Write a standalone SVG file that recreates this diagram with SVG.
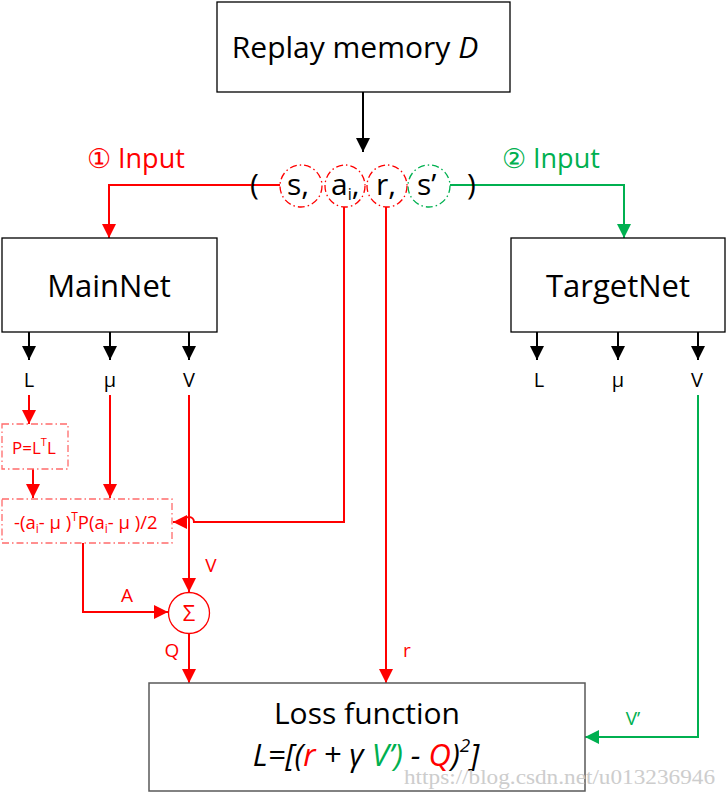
<svg xmlns="http://www.w3.org/2000/svg" width="727" height="798" viewBox="0 0 727 798">
<style>
.box{fill:#fff;stroke:#000;stroke-width:1.3}
.lbox{fill:#fff;stroke:#595959;stroke-width:1.5}
.t{font-family:"Open Sans","Liberation Sans",sans-serif;fill:#000}
.red{fill:#ff0000}
.grn{fill:#00b050}
.k{stroke:#000;stroke-width:2;fill:none}
.r{stroke:#ff0000;stroke-width:2;fill:none}
.g{stroke:#00b050;stroke-width:2;fill:none}
.dr{fill:none;stroke:#ff0000;stroke-width:1.3;stroke-dasharray:7 3 1.5 3}
.dg{fill:none;stroke:#00b050;stroke-width:1.3;stroke-dasharray:7 3 1.5 3}
.db{fill:#fff;stroke:#ff6b6b;stroke-width:1.3;stroke-dasharray:7 3 1.5 3}
</style>
<defs>
<marker id="ak" viewBox="0 0 14 14" refX="14" refY="7" markerWidth="14" markerHeight="14" markerUnits="userSpaceOnUse" orient="auto"><path d="M0,0 L14,7 L0,14 z" fill="#000"/></marker>
<marker id="ar" viewBox="0 0 14 14" refX="14" refY="7" markerWidth="14" markerHeight="14" markerUnits="userSpaceOnUse" orient="auto"><path d="M0,0 L14,7 L0,14 z" fill="#ff0000"/></marker>
<marker id="ag" viewBox="0 0 14 14" refX="14" refY="7" markerWidth="14" markerHeight="14" markerUnits="userSpaceOnUse" orient="auto"><path d="M0,0 L14,7 L0,14 z" fill="#00b050"/></marker>
</defs>

<g id="connectors">
<path class="k" d="M363,92 V152" marker-end="url(#ak)"/>
<path class="r" d="M280,185 H109 V238" marker-end="url(#ar)"/>
<path class="g" d="M450,185 H624 V238" marker-end="url(#ag)"/>
<path class="k" d="M29,332 V360" marker-end="url(#ak)"/>
<path class="k" d="M110,332 V360" marker-end="url(#ak)"/>
<path class="k" d="M189,332 V360" marker-end="url(#ak)"/>
<path class="k" d="M537,332 V360" marker-end="url(#ak)"/>
<path class="k" d="M618,332 V360" marker-end="url(#ak)"/>
<path class="k" d="M698,332 V360" marker-end="url(#ak)"/>
<path class="r" d="M29,395 V424" marker-end="url(#ar)"/>
<path class="r" d="M33,469 V498" marker-end="url(#ar)"/>
<path class="r" d="M110,395 V498" marker-end="url(#ar)"/>
<path class="r" d="M189,395 V592" marker-end="url(#ar)"/>
<path class="r" d="M344,207 V522 H194 A5,5 0 0 0 184,522 H173" marker-end="url(#ar)"/>
<path class="r" d="M386,207 V683" marker-end="url(#ar)"/>
<path class="r" d="M83,543 V612 H168" marker-end="url(#ar)"/>
<path class="r" d="M189,633 V683" marker-end="url(#ar)"/>
<path class="g" d="M698,395 V737 H585" marker-end="url(#ag)"/>
</g>

<g id="replay">
<rect class="box" x="217" y="2" width="293" height="90"/>
<text class="t" x="355" y="58" font-size="30" text-anchor="middle">Replay memory <tspan font-style="italic">D</tspan></text>
</g>

<g id="tuple">
<ellipse class="dr" cx="301" cy="186" rx="21" ry="21"/>
<ellipse class="dr" cx="345" cy="186" rx="20" ry="21"/>
<ellipse class="dr" cx="387" cy="186" rx="20" ry="21"/>
<ellipse class="dg" cx="429" cy="186" rx="21" ry="21"/>
<text class="t" x="250" y="195" font-size="30">(</text>
<text class="t" x="287" y="195" font-size="30">s,</text>
<text class="t" x="331" y="195" font-size="30">a<tspan font-size="16" dy="5">i</tspan><tspan dy="-5">,</tspan></text>
<text class="t" x="376" y="195" font-size="30">r,</text>
<text class="t" x="417" y="195" font-size="30">s’</text>
<text class="t" x="467" y="195" font-size="30">)</text>
</g>

<g id="input1">
<text class="t red" x="87" y="168" font-size="27">① Input</text>
</g>
<g id="input2">
<text class="t grn" x="502" y="168" font-size="27">② Input</text>
</g>

<g id="mainnet">
<rect class="box" x="2" y="238" width="215" height="94"/>
<text class="t" x="109" y="297" font-size="31" text-anchor="middle">MainNet</text>
</g>
<g id="targetnet">
<rect class="box" x="511" y="238" width="214" height="94"/>
<text class="t" x="618" y="297" font-size="31" text-anchor="middle">TargetNet</text>
</g>

<g id="main-outputs">
<text class="t" x="29" y="387" font-size="20" text-anchor="middle">L</text>
<text class="t" x="110" y="387" font-size="20" text-anchor="middle">μ</text>
<text class="t" x="189" y="387" font-size="20" text-anchor="middle">V</text>
</g>
<g id="target-outputs">
<text class="t" x="539" y="387" font-size="20" text-anchor="middle">L</text>
<text class="t" x="618" y="387" font-size="20" text-anchor="middle">μ</text>
<text class="t" x="697" y="387" font-size="20" text-anchor="middle">V</text>
</g>

<g id="pbox">
<rect class="db" x="2" y="424" width="66" height="45"/>
<text class="t red" x="12" y="454" font-size="17">P=L<tspan font-size="11" dy="-8">T</tspan><tspan dy="8">L</tspan></text>
</g>

<g id="abox">
<rect class="db" x="2" y="499" width="170" height="44"/>
<text class="t red" x="14" y="529" font-size="18.5">-(a<tspan font-size="12" dy="4">i</tspan><tspan dy="-4">- μ  )</tspan><tspan font-size="12" dy="-8">T</tspan><tspan dy="8">P(a</tspan><tspan font-size="12" dy="4">i</tspan><tspan dy="-4">- μ  )/2</tspan></text>
</g>

<g id="sum">
<circle cx="189" cy="613" r="20.5" fill="#fff" stroke="#ff0000" stroke-width="1.3"/>
<text class="t red" x="189" y="621" font-size="22" text-anchor="middle">Σ</text>
</g>

<g id="labels">
<text class="t red" x="211" y="572" font-size="19" text-anchor="middle">V</text>
<text class="t red" x="127" y="602" font-size="19" text-anchor="middle">A</text>
<text class="t red" x="172" y="657" font-size="19" text-anchor="middle">Q</text>
<text class="t red" x="407" y="657" font-size="19" text-anchor="middle">r</text>
<text class="t grn" x="633" y="725" font-size="19" text-anchor="middle">V’</text>
</g>

<g id="loss">
<rect class="lbox" x="149" y="683" width="436" height="108"/>
<text class="t" x="367" y="724" font-size="30" text-anchor="middle">Loss function</text>
<text class="t" x="366" y="766" font-size="31" text-anchor="middle" font-style="italic">L=[(<tspan class="red">r</tspan> + γ <tspan class="grn">V’)</tspan> - <tspan class="red">Q</tspan>)<tspan font-size="19" dy="-14">2</tspan><tspan dy="14">]</tspan></text>
</g>

<g id="watermark">
<text x="404" y="784" font-family="'Liberation Serif',serif" font-size="20" fill="#c8c8c8" opacity="0.9" textLength="311" lengthAdjust="spacingAndGlyphs">https://blog.csdn.net/u013236946</text>
</g>
</svg>
